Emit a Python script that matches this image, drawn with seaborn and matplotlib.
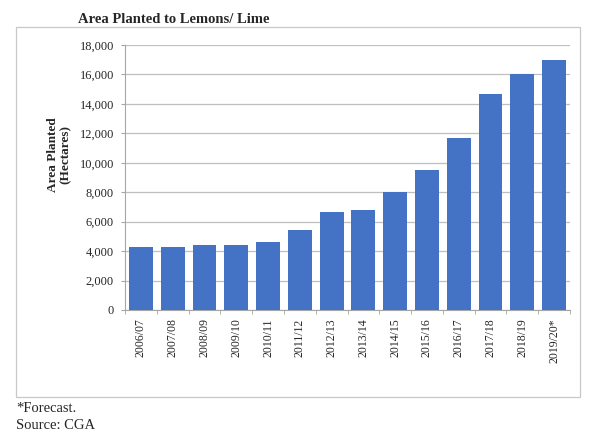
import numpy as np
import pandas as pd
import matplotlib
matplotlib.use("Agg")
import matplotlib.pyplot as plt
import seaborn as sns
from matplotlib.patches import Rectangle

# dane
seasons = ["2006/07", "2007/08", "2008/09", "2009/10", "2010/11", "2011/12", "2012/13",
           "2013/14", "2014/15", "2015/16", "2016/17", "2017/18", "2018/19", "2019/20*"]
area = [4300, 4300, 4400, 4400, 4650, 5450, 6650, 6800, 8000, 9500, 11700, 14650, 16000, 17000]
yticks = [0, 2000, 4000, 6000, 8000, 10000, 12000, 14000, 16000, 18000]

df = pd.DataFrame({"season": seasons, "area": area})

sns.set_style("white")
plt.rcParams["font.family"] = ["Liberation Serif", "DejaVu Serif"]

fig = plt.figure(figsize=(6, 4.33), dpi=100)
ax = fig.add_axes([125 / 600, 1 - 310 / 433, 445 / 600, 265 / 433])

sns.barplot(data=df, x="season", y="area", color="#4472C4", saturation=1,
            width=0.75, linewidth=0, ax=ax, zorder=3)

ax.set_ylim(0, 18000)
ax.set_xlim(-0.5, len(seasons) - 0.5)
ax.set_yticks(yticks)
ax.set_yticklabels([f"{v:,}" for v in yticks], fontsize=9)
ax.set_xticks(range(len(seasons)))
ax.set_xticklabels(seasons, rotation=90, fontsize=8.5)
ax.set_xticks(np.arange(-0.5, len(seasons), 1), minor=True)
ax.tick_params(axis="x", which="major", length=0, pad=6)
ax.tick_params(axis="x", which="minor", length=3, color="#A6A6A6", direction="out", bottom=True)
ax.tick_params(axis="y", length=3, color="#A6A6A6", direction="out", left=True, pad=5)
ax.yaxis.grid(True, color="#BFBFBF", linewidth=0.9, zorder=0)
ax.set_axisbelow(True)
ax.set_xlabel("")
ax.set_ylabel("")
for s in ["top", "right"]:
    ax.spines[s].set_visible(False)
ax.spines["left"].set_color("#A6A6A6")
ax.spines["bottom"].set_color("#A6A6A6")

# ramka wykresu
fig.patches.append(Rectangle((16 / 600, 1 - 397 / 433), 564 / 600, 370 / 433,
                             transform=fig.transFigure, fill=False,
                             edgecolor="#C8C8C8", linewidth=0.9))

fig.text(78 / 600, 1 - 23 / 433, "Area Planted to Lemons/ Lime", fontsize=10.5,
         fontweight="bold", va="baseline", ha="left")
fig.text(59 / 600, 1 - 155 / 433, "Area Planted\n(Hectares)", fontsize=9.5,
         fontweight="bold", rotation=90, ha="center", va="center", linespacing=1.1)
fig.text(16 / 600, 1 - 412 / 433, "*Forecast.", fontsize=10.5, va="baseline")
fig.text(16 / 600, 1 - 429 / 433, "Source: CGA", fontsize=10.5, va="baseline")

fig.savefig("out.png", dpi=100)
